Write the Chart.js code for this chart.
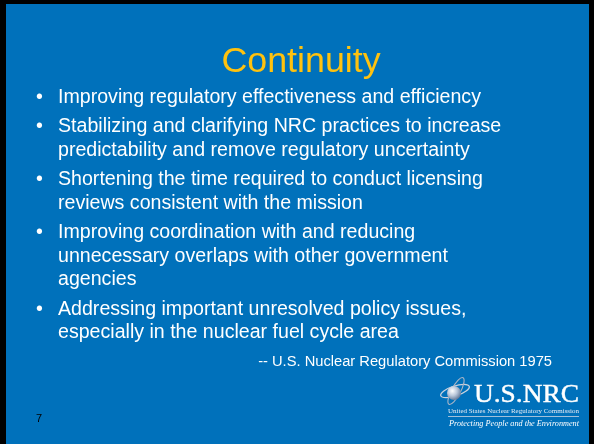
<!DOCTYPE html>
<html>
<head>
<meta charset="utf-8">
<script src="https://cdn.jsdelivr.net/npm/chart.js@4"></script>
<style>
  html, body { margin: 0; padding: 0; background: #000; }
  #slide { position: relative; width: 594px; height: 444px; overflow: hidden; font-family: "Liberation Sans", Arial, sans-serif; }
  #bg { position: absolute; left: 0; top: 0; }
  .txt { position: absolute; white-space: nowrap; color: #fff; }
  #title { color: #FFC20E; font-size: 35.8px; line-height: 36px; width: 594px; left: 4px; text-align: center; }
  .line { font-size: 19.6px; line-height: 23.3px; left: 58px; }
  .dot { font-size: 19.6px; line-height: 23.3px; left: 36px; }
  #quote { font-size: 14.7px; line-height: 16px; right: 42px; }
  #page { font-size: 11px; line-height: 12px; left: 36px; color: #000; }
  #logo { position: absolute; left: 0; top: 0; }
</style>
</head>
<body>
<div id="slide">
  <canvas id="bg" width="594" height="444"></canvas>
</div>
<script>
// slide content
const titleText = 'Continuity';
const bulletLines = [
  ['Improving regulatory effectiveness and efficiency'],
  ['Stabilizing and clarifying NRC practices to increase', 'predictability and remove regulatory uncertainty'],
  ['Shortening the time required to conduct licensing', 'reviews consistent with the mission'],
  ['Improving coordination with and reducing', 'unnecessary overlaps with other government', 'agencies'],
  ['Addressing important unresolved policy issues,', 'especially in the nuclear fuel cycle area']
];
const quoteText = '-- U.S. Nuclear Regulatory Commission 1975';
const pageNumber = '7';
const logoLines = ['U.S.NRC', 'United States Nuclear Regulatory Commission', 'Protecting People and the Environment'];

const slide = document.getElementById('slide');

// background drawn through Chart.js (empty chart, plugin paints the slide)
const slideBg = {
  id: 'slideBg',
  beforeDraw(chart) {
    const ctx = chart.ctx;
    ctx.save();
    ctx.fillStyle = '#000';
    ctx.fillRect(0, 0, chart.width, chart.height);
    ctx.fillStyle = '#0071BB';
    ctx.fillRect(6, 4, 583, 440);
    ctx.restore();
  }
};
new Chart(document.getElementById('bg').getContext('2d'), {
  type: 'scatter',
  data: { datasets: [{ data: [] }] },
  options: {
    responsive: false,
    animation: false,
    events: [],
    scales: { x: { display: false }, y: { display: false } },
    plugins: { legend: { display: false }, tooltip: { enabled: false } }
  },
  plugins: [slideBg]
});

function addText(cls, text, top, id) {
  const d = document.createElement('div');
  d.className = 'txt ' + cls;
  if (id) d.id = id;
  d.style.top = top + 'px';
  d.textContent = text;
  slide.appendChild(d);
  return d;
}

addText('', titleText, 41.5, 'title');

// bullets
let y = 84.6;
bulletLines.forEach((lines, i) => {
  if (i > 0) y += 6.4;
  addText('dot', '\u2022', y);
  lines.forEach(l => { addText('line', l, y); y += 23.3; });
});

addText('', quoteText, 353, 'quote');
addText('', pageNumber, 412, 'page');

// logo
const svgNS = 'http://www.w3.org/2000/svg';
const svg = document.createElementNS(svgNS, 'svg');
svg.setAttribute('id', 'logo');
svg.setAttribute('width', 594);
svg.setAttribute('height', 444);
svg.innerHTML = `
  <defs>
    <radialGradient id="sph" cx="0.38" cy="0.35" r="0.7">
      <stop offset="0" stop-color="#ffffff"/>
      <stop offset="0.5" stop-color="#b9c7da"/>
      <stop offset="1" stop-color="#5d7393"/>
    </radialGradient>
  </defs>
  <ellipse cx="455" cy="391" rx="15" ry="5" transform="rotate(-18 455 391)" fill="none" stroke="#c9d2de" stroke-width="1.3"/>
  <ellipse cx="456" cy="391" rx="4.5" ry="15" transform="rotate(28 456 391)" fill="none" stroke="#aab6c6" stroke-width="1.1"/>
  <circle cx="454" cy="393" r="7" fill="url(#sph)"/>
  <text x="474" y="402" font-family="Liberation Serif, Times New Roman, serif" font-size="26" fill="#fff" stroke="#fff" stroke-width="0.4" textLength="105" lengthAdjust="spacingAndGlyphs">${logoLines[0]}</text>
  <text x="448" y="413" font-family="Liberation Serif, Times New Roman, serif" font-size="5.6" fill="#e6ecf4" textLength="131" lengthAdjust="spacingAndGlyphs">${logoLines[1]}</text>
  <line x1="448" y1="416.5" x2="579" y2="416.5" stroke="#c9d4e2" stroke-width="0.8"/>
  <text x="449" y="426" font-family="Liberation Serif, Times New Roman, serif" font-style="italic" font-size="7.4" fill="#fff" textLength="130" lengthAdjust="spacingAndGlyphs">${logoLines[2]}</text>
`;
slide.appendChild(svg);
</script>
</body>
</html>
